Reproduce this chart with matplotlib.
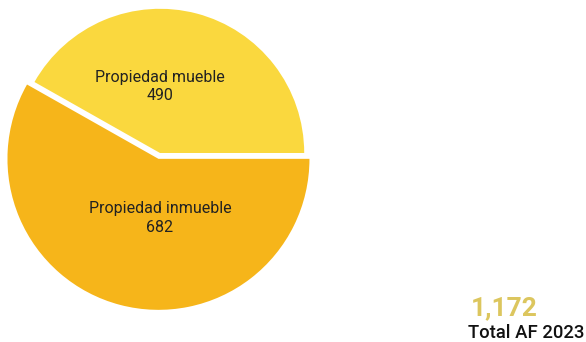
import matplotlib.pyplot as plt

plt.rcParams['font.family'] = ['Roboto', 'DejaVu Sans']

categories = ['Propiedad mueble', 'Propiedad inmueble']
values = [490, 682]
colors = ['#FAD83E', '#F6B51A']
total_label = 'Total AF 2023'

fig = plt.figure(figsize=(5.86, 3.42), dpi=100)
ax = fig.add_axes([0, 0, 1, 1])

wedges, _ = ax.pie(values, colors=colors, startangle=0, counterclock=True,
                   explode=[0, 0.04], radius=1,
                   wedgeprops=dict(linewidth=0))
# the light slice is drawn a bit smaller than the dark one
wedges[0].set_radius(0.955)

# labels inside each slice
label_y = [0.44, -0.43]
for name, v, y in zip(categories, values, label_y):
    ax.text(0, y, f'{name}\n{v:,}', ha='center', va='center',
            fontsize=11.5, color='#222222', linespacing=1.3)

ax.set_xlim(-160 / 151, (586 - 160) / 151)
ax.set_ylim(-(342 - 153) / 151, 153 / 151)
ax.set_aspect('equal')
ax.axis('off')

fig.text(471 / 586, 1 - 308 / 342, f'{sum(values):,}', ha='left', va='center',
         fontsize=19, fontweight='bold', color='#DCC65E')
fig.text(585 / 586, 1 - 333 / 342, total_label, ha='right', va='center',
         fontsize=13.3, fontweight='medium', color='#111111')

fig.savefig('out.png', dpi=100)
